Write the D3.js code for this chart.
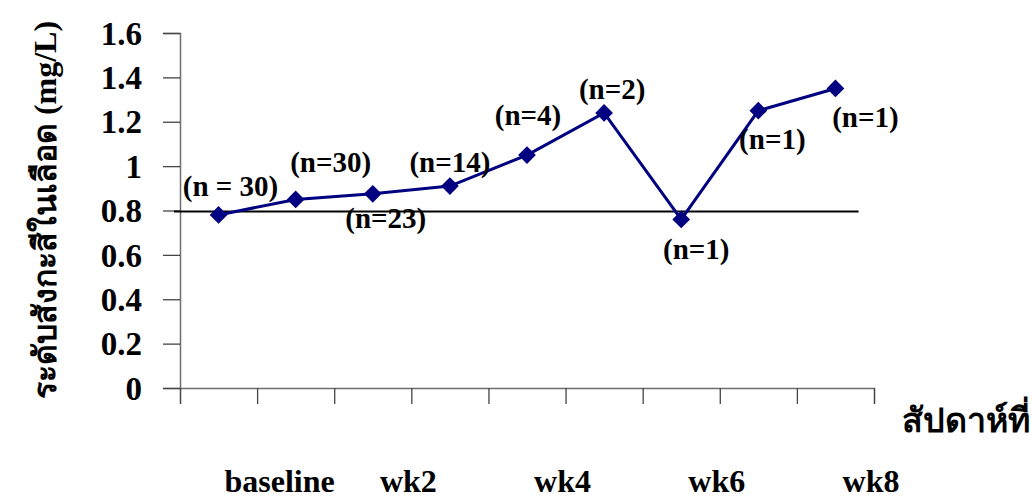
<!DOCTYPE html>
<html>
<head>
<meta charset="utf-8">
<script src="https://cdn.jsdelivr.net/npm/d3@7"></script>
<style>
  body { margin: 0; background: #fff; }
  svg text { font-family: "Liberation Serif", "DejaVu Serif", "Times New Roman", serif !important; font-weight: bold; fill: #000; }
</style>
</head>
<body>
<div class="chart"></div>
<script>
// Data
var categories = ["baseline", "wk1", "wk2", "wk3", "wk4", "wk5", "wk6", "wk7", "wk8"];
var zincValues = [0.78, 0.85, 0.875, 0.91, 1.05, 1.24, 0.76, 1.25, 1.35];
var nLabels = ["(n = 30)", "(n=30)", "(n=23)", "(n=14)", "(n=4)", "(n=2)", "(n=1)", "(n=1)", "(n=1)"];
var yTicks = [0, 0.2, 0.4, 0.6, 0.8, 1, 1.2, 1.4, 1.6];
var shownLabels = ["baseline", "wk2", "wk4", "wk6", "wk8"];
var refValue = 0.795;

// label placement (offset from the marker, px)
var labelOffsets = [[12, -19], [35, -27], [13, 34], [0, -14], [1, -30], [8, -14], [15, 40], [14, 38], [30, 39]];
var shownLabelPos = [1.33, 3, 5, 7, 9];

var svgWidth = 1032;
var svgHeight = 499;

var margin = { top: 33, right: 158, bottom: 111, left: 180 };
var width = svgWidth - margin.left - margin.right;
var height = svgHeight - margin.top - margin.bottom;

var svg = d3.select(".chart")
  .append("svg")
  .attr("width", svgWidth)
  .attr("height", svgHeight);

var chartGroup = svg.append("g")
  .attr("transform", `translate(${margin.left}, ${margin.top})`);

// scales
var xIndex = d3.scaleLinear()
  .domain([0, categories.length])
  .range([0, width]);

var yLinearScale = d3.scaleLinear()
  .domain([0, 1.6])
  .range([height, 0]);

// y axis
var leftAxis = d3.axisLeft(yLinearScale)
  .tickValues(yTicks)
  .tickSize(17)
  .tickPadding(21)
  .tickFormat(d3.format("~g"));

var yAxisG = chartGroup.append("g").call(leftAxis);
yAxisG.attr("font-family", null);
yAxisG.select(".domain").attr("stroke", "#6e6e6e").attr("stroke-width", 1.5);
yAxisG.selectAll(".tick line").attr("stroke", "#444").attr("stroke-width", 1.3);
yAxisG.selectAll(".tick text")
  .style("font-size", "33px")
  .attr("dy", "0.34em");

// x axis (ticks at category boundaries)
var bottomAxis = d3.axisBottom(xIndex)
  .tickValues(d3.range(categories.length + 1))
  .tickSize(16)
  .tickFormat("");

var xAxisG = chartGroup.append("g")
  .attr("transform", `translate(0, ${height})`)
  .call(bottomAxis);
xAxisG.select(".domain").attr("stroke", "#6e6e6e").attr("stroke-width", 1.3);
xAxisG.selectAll(".tick line").attr("stroke", "#444").attr("stroke-width", 1.3);

// category labels
chartGroup.selectAll(".catLabel")
  .data(shownLabels)
  .enter()
  .append("text")
  .attr("class", "catLabel")
  .attr("x", (d, i) => xIndex(shownLabelPos[i]) - 3)
  .attr("y", height + 104)
  .attr("text-anchor", "middle")
  .style("font-size", "32px")
  .text(d => d);

// reference line
chartGroup.append("line")
  .attr("x1", -6)
  .attr("x2", xIndex(8.8))
  .attr("y1", yLinearScale(refValue))
  .attr("y2", yLinearScale(refValue))
  .attr("stroke", "#000")
  .attr("stroke-width", 2);

// series line
var points = zincValues.map((v, i) => ({ x: xIndex(i + 0.5), y: yLinearScale(v), label: nLabels[i], off: labelOffsets[i] }));

chartGroup.append("path")
  .datum(points)
  .attr("fill", "none")
  .attr("stroke", "#000080")
  .attr("stroke-width", 3)
  .attr("d", d3.line().x(d => d.x).y(d => d.y));

// diamond markers
chartGroup.selectAll(".marker")
  .data(points)
  .enter()
  .append("path")
  .attr("class", "marker")
  .attr("transform", d => `translate(${d.x}, ${d.y})`)
  .attr("d", d3.symbol().type(d3.symbolDiamond2).size(200))
  .attr("fill", "#000080");

// n labels
chartGroup.selectAll(".nLabel")
  .data(points)
  .enter()
  .append("text")
  .attr("class", "nLabel")
  .attr("x", d => d.x + d.off[0])
  .attr("y", d => d.y + d.off[1])
  .attr("text-anchor", "middle")
  .style("font-size", "29px")
  .text(d => d.label);

// axis titles
svg.append("text")
  .attr("transform", "translate(56, 210) rotate(-90)")
  .attr("text-anchor", "middle")
  .style("font-size", "32px")
  .text("ระดับสังกะสีในเลือด (mg/L)");

svg.append("text")
  .attr("x", 1030)
  .attr("y", 432)
  .attr("text-anchor", "end")
  .style("font-size", "34px")
  .text("สัปดาห์ที่");
</script>
</body>
</html>
